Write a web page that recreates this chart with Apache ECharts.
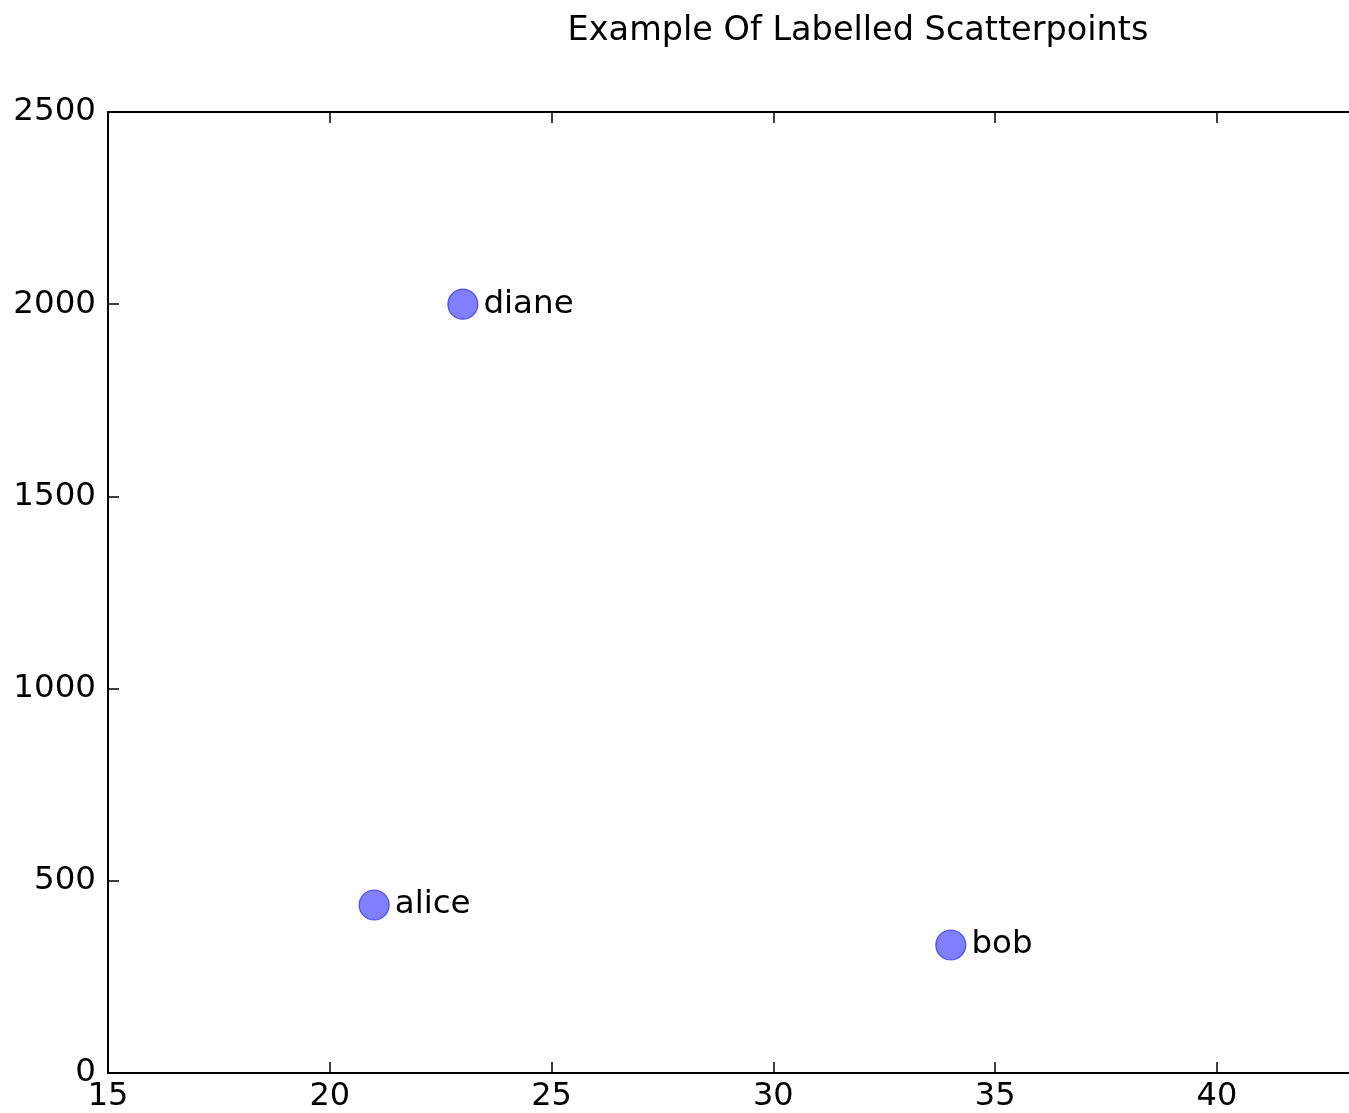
<!DOCTYPE html>
<html>
<head>
<meta charset="utf-8">
<script src="https://cdn.jsdelivr.net/npm/echarts@6/dist/echarts.min.js"></script>
<style>
html, body { margin: 0; padding: 0; background: #fff; }
#main { width: 1349px; height: 1113px; }
</style>
</head>
<body>
<div id="main"></div>
<script>
var names = ['alice', 'bob', 'diane'];
var ages = [21, 34, 23];
var scores = [437, 333, 2000];

var font = 'DejaVu Sans';
var myChart = echarts.init(document.getElementById('main'));

var points = names.map(function (n, i) {
    return { name: n, value: [ages[i], scores[i]] };
});

var option = {
    backgroundColor: '#fff',
    animation: false,
    title: {
        text: 'Example Of Labelled Scatterpoints',
        left: 853,
        textAlign: 'center',
        top: 9,
        textStyle: { fontFamily: font, fontSize: 33.5, fontWeight: 'normal', color: '#000' }
    },
    grid: {
        left: 108, top: 112, width: 1242, bottom: 40,
        containLabel: false,
        outerBoundsMode: 'none'
    },
    xAxis: [{
        type: 'value',
        min: 15,
        max: 43,
        interval: 5,
        position: 'bottom',
        splitLine: { show: false },
        axisLine: { lineStyle: { color: '#000', width: 2 } },
        axisTick: { inside: true, length: 11, lineStyle: { color: '#000', width: 1.5 } },
        axisLabel: {
            margin: 8, fontFamily: font, fontSize: 32, color: '#000',
            formatter: function (v) { return v % 5 === 0 ? v : ''; }
        }
    }, {
        type: 'value',
        min: 15,
        max: 43,
        interval: 5,
        position: 'top',
        splitLine: { show: false },
        axisLine: { lineStyle: { color: '#000', width: 2 } },
        axisTick: { inside: true, length: 11, lineStyle: { color: '#000', width: 1.5 } },
        axisLabel: { show: false }
    }],
    yAxis: {
        type: 'value',
        min: 0,
        max: 2500,
        interval: 500,
        splitLine: { show: false },
        axisLine: { show: true, lineStyle: { color: '#000', width: 2 } },
        axisTick: { show: true, inside: true, length: 11, lineStyle: { color: '#000', width: 1.5 } },
        axisLabel: {
            margin: 12, fontFamily: font, fontSize: 32.5, color: '#000',
            formatter: function (v) { return String(v); }
        }
    },
    series: [{
        type: 'scatter',
        xAxisIndex: 0,
        symbolSize: 30,
        data: points,
        itemStyle: {
            color: 'rgba(0,0,255,0.5)',
            borderColor: 'rgba(0,0,230,0.6)',
            borderWidth: 1.2,
            opacity: 1
        },
        label: {
            show: true,
            position: 'right',
            distance: 5,
            formatter: '{b}',
            fontFamily: font,
            fontSize: 32.5,
            color: '#000'
        }
    }]
};

myChart.setOption(option);
</script>
</body>
</html>
